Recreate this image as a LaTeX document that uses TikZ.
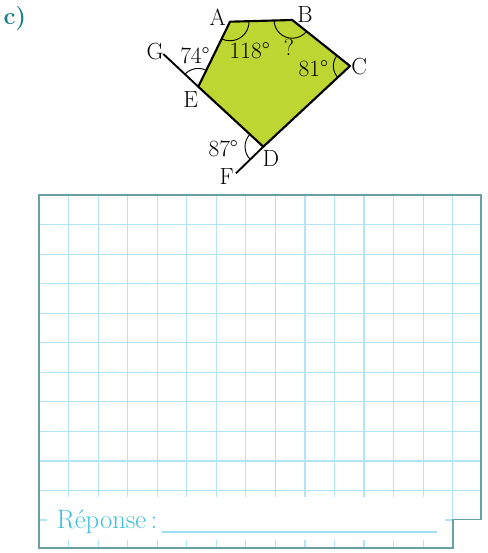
\documentclass[tikz,border=0pt]{standalone}
\usepackage{fontspec}
\usetikzlibrary{angles,calc}
\definecolor{leaf}{HTML}{BDD631}
\definecolor{tag}{HTML}{1B7F87}
\definecolor{frame}{HTML}{6A9FA3}
\definecolor{gridline}{HTML}{B3E3F6}
\definecolor{answer}{HTML}{3EC0DA}
\definecolor{rule}{HTML}{A0DDF5}
\tikzset{
  every node/.style={font=\fontsize{17.5}{20}\selectfont,text=black,inner sep=0pt},
  side/.style={draw=black,line width=1.6pt,line join=round},
  ray/.style={draw=black,line width=1.4pt},
  arcmark/.style={draw=black,line width=0.7pt,angle radius=#1},
  arcmark/.default=13.7pt,
  tagtext/.style={font=\fontsize{18}{20}\selectfont\bfseries,text=tag},
  gridrule/.style={draw=gridline,line width=0.9pt},
  framerule/.style={draw=frame,line width=1.1pt,line join=miter},
  answerbox/.style={fill=white,anchor=north west,minimum width=298.5pt,minimum height=32.3pt},
  answertext/.style={font=\fontsize{20}{22}\selectfont,text=answer,anchor=base west},
  answerline/.style={draw=rule,line width=1.2pt},
}

\begin{document}
\begin{tikzpicture}[x=0.75pt,y=0.75pt]
\useasboundingbox (0,0) rectangle (487,-553);

\node[tagtext] (part) at (15,-19) {c)};

% pentagon
\coordinate (A) at (230,-21.7);
\coordinate (B) at (292.3,-20);
\coordinate (C) at (350,-66);
\coordinate (D) at (263.3,-146.7);
\coordinate (E) at (198.3,-86.7);
\coordinate (G) at (163.3,-54);
\coordinate (F) at (236,-173.3);

\filldraw[side,fill=leaf] (A) -- (B) -- (C) -- (D) -- (E) -- cycle;
\draw[ray] (E) -- (G);
\draw[ray] (D) -- (F);

\pic[arcmark=14.3pt] {angle=E--A--B};
\pic[arcmark] {angle=A--B--C};
\pic[arcmark=12.5pt] {angle=B--C--D};
\pic[arcmark] {angle=A--E--G};
\pic[arcmark] {angle=E--D--F};

\node (labA) at (217.7,-17.5) {A};
\node (labB) at (305,-15) {B};
\node (labC) at (359.2,-66.7) {C};
\node (labD) at (270.8,-159) {D};
\node (labE) at (190.8,-100) {E};
\node (labF) at (226.7,-176.7) {F};
\node (labG) at (155,-51.7) {G};

\node (angE) at (195,-55.8) {74°};
\node (angA) at (249.7,-50.8) {118°};
\node (angB) at (289,-47.5) {?};
\node (angC) at (313.3,-69) {81°};
\node (angD) at (223.3,-149) {87°};

% squared answer area
\begin{scope}
  \clip (39,-195) -- (481,-195) -- (481,-519.5) -- (453,-519.5) -- (453,-548) -- (39,-548) -- cycle;
  \foreach \i in {1,...,14}
    \draw[gridrule] ({39+29.55*\i},-195) -- ({39+29.55*\i},-548);
  \foreach \j in {1,...,11}
    \draw[gridrule] (39,{-195-29.55*\j}) -- (481,{-195-29.55*\j});
\end{scope}
\draw[framerule] (39,-195) -- (481,-195) -- (481,-519.5) -- (453,-519.5) -- (453,-548) -- (39,-548) -- cycle;

\node[answerbox] (answer) at (47,-497) {};
\node[answertext] (reponse) at (56.5,-528.3) {Réponse\,:};
\coordinate (lineL) at (162,-531.7);
\coordinate (lineR) at (437,-531.7);
\draw[answerline] (lineL) -- (lineR);

\end{tikzpicture}
\end{document}
